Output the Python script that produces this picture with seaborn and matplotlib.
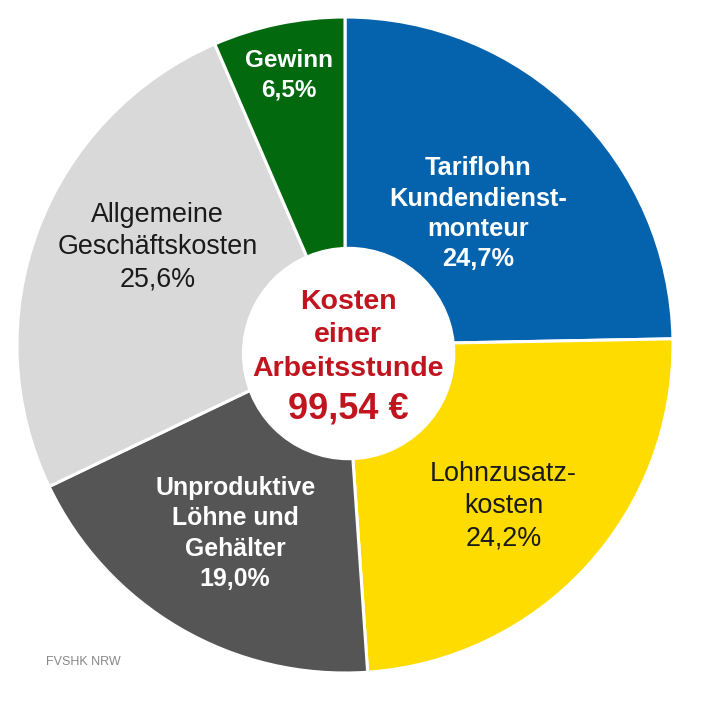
import numpy as np
import matplotlib
matplotlib.use("Agg")
import matplotlib.pyplot as plt
import seaborn as sns

# --------------------------------------------------------
# Data: Kosten einer Arbeitsstunde (FVSHK NRW)
# --------------------------------------------------------
categories = ["Tariflohn\nKundendienst-\nmonteur", "Lohnzusatz-\nkosten",
              "Unproduktive\nLöhne und\nGehälter", "Allgemeine\nGeschäftskosten", "Gewinn"]
shares = [24.7, 24.2, 19.0, 25.6, 6.5]
share_labels = ["24,7%", "24,2%", "19,0%", "25,6%", "6,5%"]
center_title = "Kosten\neiner\nArbeitsstunde"
center_value = "99,54 €"
source = "FVSHK NRW"

colors = ["#0563ad", "#ffdc00", "#555555", "#d9d9d9", "#02690f"]
text_colors = ["white", "#1a1a1a", "white", "#1a1a1a", "white"]
text_weights = ["bold", "normal", "bold", "normal", "bold"]
text_sizes = [18.3, 19.4, 17.9, 19.4, 17.5]
label_radius = [0.57, 0.69, 0.665, 0.645, 0.84]
label_nudge = [1, 3, 0, 7, 0]   # degrees, clockwise

sns.set_theme(style="white")
plt.rcParams["font.family"] = ["Liberation Sans", "DejaVu Sans"]

fig = plt.figure(figsize=(7.15, 7.2), dpi=100)
ax = fig.add_axes([0, 0, 1, 1])

# pie: centre at pixel (345, 345), radius 328 px
R = 328
ax.pie(shares, colors=sns.color_palette(colors), startangle=90, counterclock=False,
       radius=1, wedgeprops=dict(edgecolor="white", linewidth=2.2))

# inner white disc (slightly off-centre in the original)
ax.add_patch(plt.Circle((0.011, -0.026), 106 / R, color="white", zorder=3))

# slice labels
cum = np.cumsum([0] + shares)
for i, cat in enumerate(categories):
    mid = (cum[i] + cum[i + 1]) / 2 / 100 * 360 + label_nudge[i]
    x = label_radius[i] * np.sin(np.radians(mid))
    y = label_radius[i] * np.cos(np.radians(mid))
    ax.text(x, y, cat + "\n" + share_labels[i], ha="center", va="center",
            color=text_colors[i], fontsize=text_sizes[i], fontweight=text_weights[i],
            linespacing=1.33, zorder=4)

# centre text
ax.text(0.01, 0.03, center_title, ha="center", va="center", color="#c0141e",
        fontsize=20.5, fontweight="bold", linespacing=1.38, zorder=4)
ax.text(0.01, -0.195, center_value, ha="center", va="center", color="#c0141e",
        fontsize=26, fontweight="bold", zorder=4)

# source
ax.text(46 / R - 345 / R, (345 - 662) / R, source, ha="left", va="center",
        color="#888888", fontsize=9, zorder=4)

ax.set_xlim(-345 / R, 370 / R)
ax.set_ylim(-375 / R, 345 / R)
ax.set_aspect("equal")
ax.axis("off")

fig.savefig("out.png", dpi=100, facecolor="white")
